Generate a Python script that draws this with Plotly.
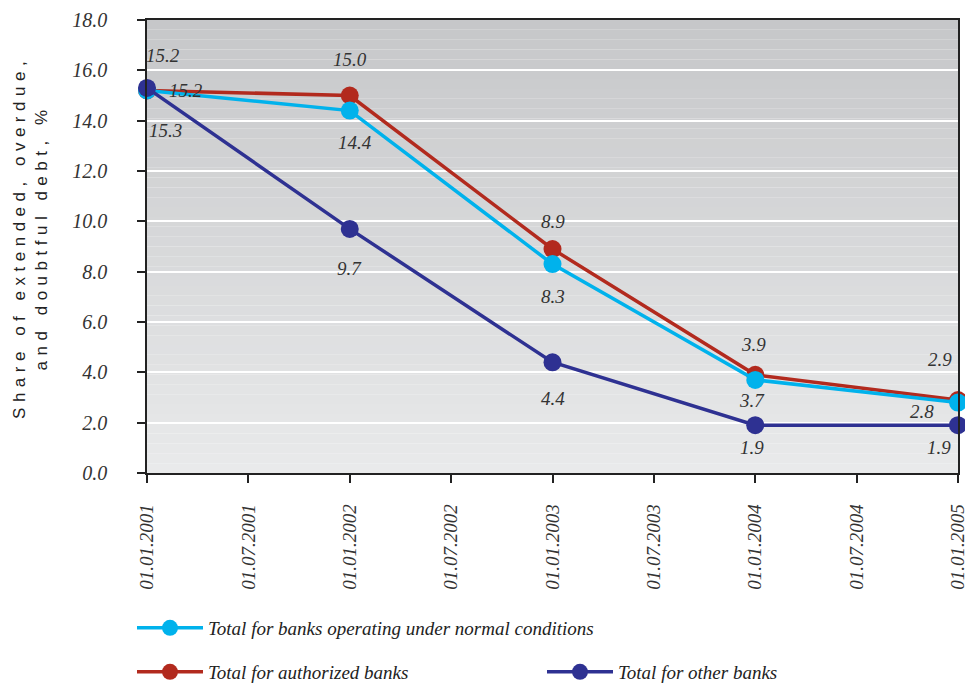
import plotly.graph_objects as go

# ---- data ----
all_ticks = ["01.01.2001", "01.07.2001", "01.01.2002", "01.07.2002", "01.01.2003",
             "01.07.2003", "01.01.2004", "01.07.2004", "01.01.2005"]
dates = ["01.01.2001", "01.01.2002", "01.01.2003", "01.01.2004", "01.01.2005"]
normal_vals = [15.2, 14.4, 8.3, 3.7, 2.8]
authorized_vals = [15.2, 15.0, 8.9, 3.9, 2.9]
other_vals = [15.3, 9.7, 4.4, 1.9, 1.9]

names = {
    "normal": "Total for banks operating under normal conditions",
    "authorized": "Total for authorized banks",
    "other": "Total for other banks",
}

# ---- styles ----
colors = {"normal": "#00b2ec", "authorized": "#b22a1e", "other": "#2e3192"}
# label pixel offsets (dx, dy) relative to each point
offsets = {
    "authorized": [(16, 35), (0, 36), (0, 28), (-2, 30), (-18, 41)],
    "normal": [(39, 0), (5, -32), (0, -32), (-3, -21), (-36, -9)],
    "other": [(18, -43), (0, -40), (0, -36), (-3, -22), (-19, -22)],
}

serif = "Liberation Serif"
label_font = dict(family=serif, size=19, color="#333333", style="italic")

fig = go.Figure()

order = [("authorized", authorized_vals, "legend2"),
         ("normal", normal_vals, "legend"),
         ("other", other_vals, "legend2")]
for key, vals, lg in order:
    tr = dict(
        x=dates, y=vals, name=names[key], mode="lines+markers",
        line=dict(color=colors[key], width=3.5),
        marker=dict(color=colors[key], size=18),
        cliponaxis=False, legend=lg,
    )
    if key == "authorized":
        tr["legendwidth"] = 329
    fig.add_trace(go.Scatter(**tr))

annotations = []
for key, vals, _ in order:
    for i, (d, v) in enumerate(zip(dates, vals)):
        dx, dy = offsets[key][i]
        annotations.append(dict(
            x=d, y=v, xref="x", yref="y", text=f"{v:.1f}", showarrow=False,
            xshift=dx, yshift=dy, font=label_font,
        ))

annotations.append(dict(
    text='<span style="letter-spacing:5.5px">Share of extended, overdue,<br>and doubtful debt, %</span>',
    xref="paper", yref="paper", x=-0.143, y=0.519, xanchor="center", yanchor="middle",
    textangle=-90, showarrow=False,
    font=dict(family="Liberation Sans", size=17, color="#222222"),
))

# gradient background strips
N = 46
top = (0xc6, 0xc7, 0xc9)
bot = (0xe9, 0xea, 0xeb)
shapes = []
for i in range(N):
    t = (i + 0.5) / N
    c = tuple(round(bot[k] + (top[k] - bot[k]) * t) for k in range(3))
    shapes.append(dict(type="rect", xref="paper", yref="paper",
                       x0=0, x1=1, y0=i / N, y1=(i + 1) / N,
                       fillcolor="rgb(%d,%d,%d)" % c, line=dict(width=0),
                       layer="below"))

legend_font = dict(family=serif, size=19, color="#222222", style="italic")
fig.update_layout(
    width=965, height=678,
    margin=dict(l=139, r=15, t=12, b=213, autoexpand=False),
    paper_bgcolor="white", plot_bgcolor="rgba(0,0,0,0)",
    shapes=shapes, annotations=annotations,
    showlegend=True,
    legend=dict(orientation="h", x=-0.0185, y=-0.3422, xanchor="left", yanchor="middle",
                font=legend_font, bgcolor="rgba(0,0,0,0)", itemwidth=66),
    legend2=dict(orientation="h", x=-0.0185, y=-0.4393, xanchor="left", yanchor="middle",
                 font=legend_font, bgcolor="rgba(0,0,0,0)", itemwidth=66),
    xaxis=dict(type="category", categoryorder="array", categoryarray=all_ticks,
               tickvals=all_ticks, range=[0, 8], showgrid=False, automargin=False,
               showline=True, linecolor="#222222", linewidth=1.5, mirror=True,
               ticks="outside", ticklen=8, tickcolor="#222222", tickwidth=1.5,
               tickangle=-90, ticklabelstandoff=14, ticklabeloverflow="allow",
               tickfont=dict(family=serif, size=19, color="#333333", style="italic")),
    yaxis=dict(range=[0, 18], dtick=2, tickformat=".1f", showgrid=True, automargin=False,
               gridcolor="white", gridwidth=2, zeroline=False,
               showline=True, linecolor="#222222", linewidth=1.5, mirror=True,
               ticks="outside", ticklen=8, tickcolor="#222222", tickwidth=1.5,
               ticklabelstandoff=26, ticklabeloverflow="allow",
               tickfont=dict(family=serif, size=20, color="#333333", style="italic")),
)

fig.write_html("out.html")
